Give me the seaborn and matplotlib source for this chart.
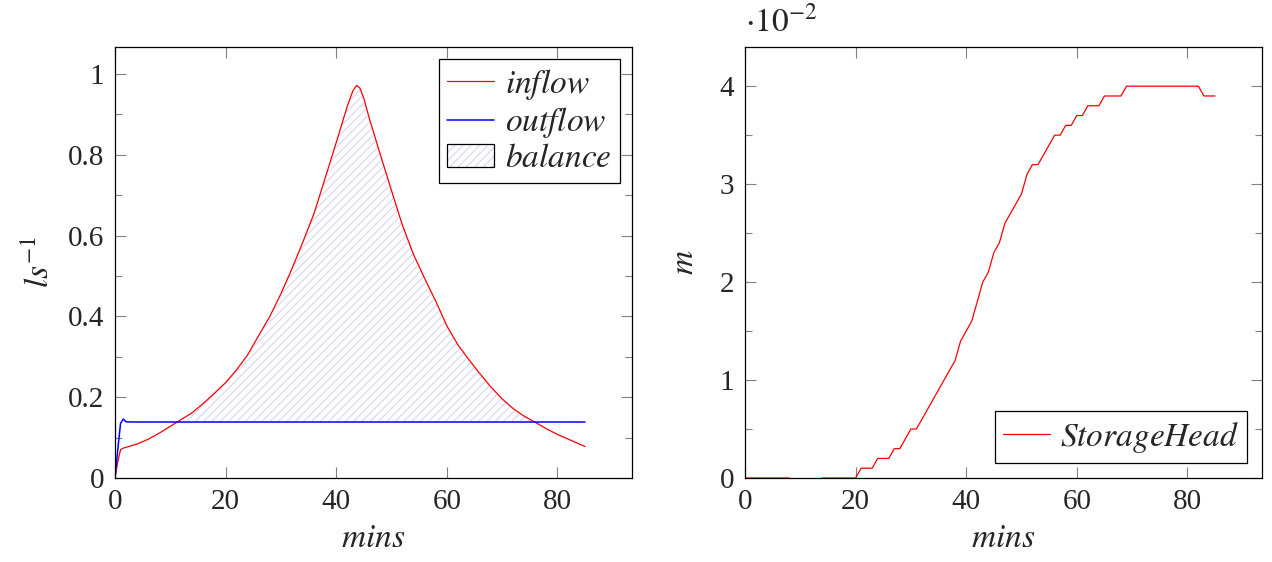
import numpy as np
import pandas as pd
import matplotlib
matplotlib.use("Agg")
import matplotlib.pyplot as plt
import seaborn as sns
from matplotlib.patches import Rectangle
from matplotlib.lines import Line2D
from matplotlib.legend_handler import HandlerTuple
from matplotlib.ticker import MultipleLocator, FuncFormatter

# flows (l/s) against time (mins)
minutes = [0, 0.5, 1, 1.5, 2, 4, 6, 8, 10, 12, 14, 16, 18, 20, 22, 24, 26, 28, 30,
           32, 34, 36, 38, 40, 41, 42, 43, 43.7, 44.3, 45, 46, 47, 48, 50, 52, 54,
           56, 58, 60, 62, 64, 66, 68, 70, 72, 74, 76, 78, 80, 82, 84, 85]
inflow = [0, 0.04, 0.07, 0.074, 0.076, 0.084, 0.096, 0.111, 0.128, 0.145, 0.162,
          0.185, 0.21, 0.236, 0.268, 0.305, 0.353, 0.400, 0.456, 0.518, 0.585,
          0.655, 0.742, 0.83, 0.875, 0.92, 0.958, 0.972, 0.965, 0.94, 0.89, 0.845,
          0.80, 0.712, 0.625, 0.553, 0.494, 0.438, 0.377, 0.33, 0.293, 0.258,
          0.225, 0.196, 0.172, 0.153, 0.138, 0.122, 0.108, 0.096, 0.084, 0.078]
outflow = [0, 0.07, 0.135, 0.146, 0.139] + [0.1386] * 47

# storage head (m), one reading per minute
head_minutes = list(range(0, 86))
storage_head = ([0.0] * 9 + [-0.001] * 5 + [0.0] * 7 +
                [0.001, 0.001, 0.001, 0.002, 0.002, 0.002, 0.003, 0.003, 0.004,
                 0.005, 0.005, 0.006, 0.007, 0.008, 0.009, 0.010, 0.011, 0.012,
                 0.014, 0.015, 0.016, 0.018, 0.020, 0.021, 0.023, 0.024, 0.026,
                 0.027, 0.028, 0.029, 0.031, 0.032, 0.032, 0.033, 0.034, 0.035,
                 0.035, 0.036, 0.036, 0.037, 0.037, 0.038, 0.038, 0.038, 0.039,
                 0.039, 0.039, 0.039] + [0.040] * 14 + [0.039, 0.039, 0.039])

flows = pd.DataFrame({"mins": minutes, "inflow": inflow, "outflow": outflow})
head = pd.DataFrame({"mins": head_minutes, "head": storage_head})

sns.set_theme(style="ticks")
plt.rcParams["font.family"] = ["Liberation Serif", "DejaVu Serif"]
plt.rcParams["mathtext.fontset"] = "stix"
plt.rcParams["hatch.linewidth"] = 0.8

RED = "#ff0000"
BLUE = "#0000ff"
HATCH = "#d6d6f8"
FS = 21     # tick numbers
MFS = 24    # math italic labels

W, H = 1272, 562
fig = plt.figure(figsize=(W / 100, H / 100), dpi=100)
ax1 = fig.add_axes([115 / W, 84 / H, 517 / W, 431 / H])
ax2 = fig.add_axes([745 / W, 84 / H, 517 / W, 431 / H])

# left: inflow / outflow / balance
ax1.fill_between(flows["mins"], flows["inflow"], flows["outflow"],
                 where=flows["inflow"] > flows["outflow"], interpolate=True,
                 facecolor="none", edgecolor=HATCH, hatch="////", linewidth=0)
sns.lineplot(data=flows, x="mins", y="inflow", color=RED, linewidth=0.9, ax=ax1)
sns.lineplot(data=flows, x="mins", y="outflow", color=BLUE, linewidth=1.1, ax=ax1)

ax1.set_xlim(0, 93.5)
ax1.set_ylim(0, 1.067)
ax1.yaxis.set_major_locator(MultipleLocator(0.2))
ax1.yaxis.set_minor_locator(MultipleLocator(0.1))
ax1.yaxis.set_major_formatter(FuncFormatter(lambda v, _: f"{v:g}"))
ax1.set_xlabel(r"$mins$", fontsize=MFS, labelpad=6)
ax1.set_ylabel(r"$ls^{-1}$", fontsize=MFS, labelpad=8)

handles = [Line2D([], [], color=RED, lw=0.9),
           Line2D([], [], color=BLUE, lw=1.1),
           (Rectangle((0, 0), 1, 1, facecolor="none", edgecolor=HATCH, hatch="////", lw=0),
            Rectangle((0, 0), 1, 1, facecolor="none", edgecolor="black", lw=0.9))]
leg1 = ax1.legend(handles, [r"$inflow$", r"$outflow$", r"$balance$"],
                  handler_map={tuple: HandlerTuple(ndivide=1)},
                  loc="upper right", fontsize=MFS, frameon=True, fancybox=False,
                  edgecolor="black", framealpha=1, borderaxespad=0.35,
                  labelspacing=0.1, handlelength=1.4, handletextpad=0.35,
                  borderpad=0.25)
leg1.get_frame().set_linewidth(0.9)

# right: storage head
sns.lineplot(data=head, x="mins", y="head", color=RED, linewidth=0.9, ax=ax2)
ax2.set_xlim(0, 93.5)
ax2.set_ylim(0, 0.044)
ax2.yaxis.set_major_locator(MultipleLocator(0.01))
ax2.yaxis.set_minor_locator(MultipleLocator(0.005))
ax2.yaxis.set_major_formatter(FuncFormatter(lambda v, _: f"{v * 100:g}"))
ax2.set_xlabel(r"$mins$", fontsize=MFS, labelpad=6)
ax2.set_ylabel(r"$m$", fontsize=MFS, labelpad=14)
ax2.text(0.0, 1.02, r"$\cdot10^{-2}$", transform=ax2.transAxes,
         fontsize=MFS, ha="left", va="bottom")

leg2 = ax2.legend([Line2D([], [], color=RED, lw=0.9)], [r"$StorageHead$"],
                  loc="lower right", fontsize=MFS, frameon=True, fancybox=False,
                  edgecolor="black", framealpha=1, borderaxespad=0.45,
                  handlelength=1.4, handletextpad=0.3, borderpad=0.25)
leg2.get_frame().set_linewidth(0.9)

for ax in (ax1, ax2):
    ax.xaxis.set_major_locator(MultipleLocator(20))
    ax.tick_params(which="both", direction="in", top=True, right=True,
                   color="0.5", width=0.8, labelsize=FS)
    ax.tick_params(which="major", length=8, pad=8)
    ax.tick_params(which="minor", length=5)
    for s in ax.spines.values():
        s.set_color("black")
        s.set_linewidth(0.9)

fig.savefig("out.png", dpi=100)
